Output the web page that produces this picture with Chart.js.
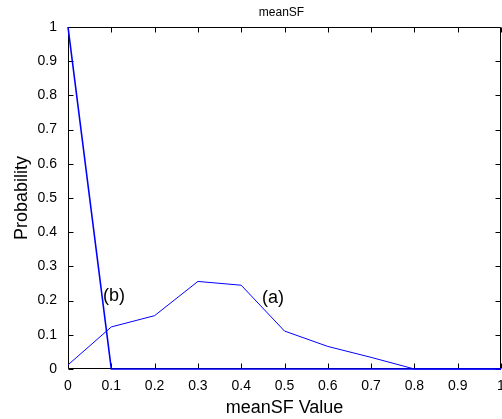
<!DOCTYPE html>
<html>
<head>
<meta charset="utf-8">
<script src="https://cdn.jsdelivr.net/npm/chart.js@4/dist/chart.umd.min.js"></script>
<style>
  body { margin: 0; background: #fff; }
  #wrap { width: 502px; height: 419px; }
</style>
</head>
<body>
<div id="wrap"><canvas id="meanSFChart" width="502" height="419"></canvas></div>
<script>
// Data block
const meanSFValues = [0, 0.1, 0.2, 0.3, 0.4, 0.5, 0.6, 0.7, 0.8, 0.9, 1];
const probA = [0.012, 0.123, 0.156, 0.256, 0.245, 0.111, 0.066, 0.034, 0, 0, 0];
const probB = [1, 0, 0, 0, 0, 0, 0, 0, 0, 0, 0];
const noteLabels = ['(b)', '(a)'];
const noteX = [0.081, 0.448];
const noteY = [0.213, 0.208];

const toPoints = (ys) => meanSFValues.map((x, i) => ({x: x, y: ys[i]}));

const meanSFData = {
    datasets: [{
        label: '(a)',
        data: toPoints(probA),
        borderColor: '#0000ff',
        borderWidth: 1,
        pointRadius: 0,
        tension: 0,
        clip: 3
    }, {
        label: '(b)',
        data: toPoints(probB),
        borderColor: '#0000ff',
        borderWidth: 1.6,
        pointRadius: 0,
        tension: 0,
        clip: 3
    }]  // End datasets
};  // End data

// MATLAB style box, inward ticks, title and curve labels
const matlabFrame = {
    id: 'matlabFrame',
    beforeDatasetsDraw(chart) {
        const {ctx, chartArea: a, scales: {x, y}} = chart;
        const L = Math.round(a.left) + 0.5, R = Math.round(a.right) - 0.5;
        const T = Math.round(a.top) + 0.5, B = Math.round(a.bottom) - 0.5;
        ctx.save();
        ctx.strokeStyle = '#000';
        ctx.lineWidth = 1;
        ctx.beginPath();
        ctx.rect(L, T, R - L, B - T);
        x.ticks.forEach(t => {
            const px = Math.round(x.getPixelForValue(t.value)) + 0.5;
            ctx.moveTo(px, B); ctx.lineTo(px, B - 5);
            ctx.moveTo(px, T); ctx.lineTo(px, T + 5);
        });
        y.ticks.forEach(t => {
            const py = Math.round(y.getPixelForValue(t.value)) + 0.5;
            ctx.moveTo(L, py); ctx.lineTo(L + 5, py);
            ctx.moveTo(R, py); ctx.lineTo(R - 5, py);
        });
        ctx.stroke();
        ctx.restore();
    },
    afterDraw(chart) {
        const {ctx, chartArea: a, scales: {x, y}} = chart;
        ctx.save();
        ctx.fillStyle = '#000';
        ctx.font = '12px "Liberation Sans", Arial, sans-serif';
        ctx.textAlign = 'center';
        ctx.textBaseline = 'middle';
        ctx.fillText('meanSF', (a.left + a.right) / 2 - 3, 13);
        ctx.font = '18px "Liberation Sans", Arial, sans-serif';
        ctx.textAlign = 'left';
        noteLabels.forEach((txt, i) => {
            ctx.fillText(txt, x.getPixelForValue(noteX[i]), y.getPixelForValue(noteY[i]));
        });
        ctx.restore();
    }
};

const tickFont = {family: '"Liberation Sans", Arial, sans-serif', size: 14};
const titleFont = {family: '"Liberation Sans", Arial, sans-serif', size: 18};

// Config block
const meanSFConfig = {
    type: 'line',
    data: meanSFData,
    options: {
        responsive: false,
        animation: false,
        layout: {padding: {top: 27, right: 1, left: 0, bottom: 0}},
        plugins: {
            legend: {display: false},
            title: {display: false},
            tooltip: {enabled: false}
        },  // End plugins
        scales: {
            x: {
                type: 'linear',
                min: 0,
                max: 1,
                grid: {display: false},
                border: {display: false},
                ticks: {
                    stepSize: 0.1,
                    padding: 1,
                    color: '#000',
                    font: tickFont,
                    maxRotation: 0,
                    callback: (v) => String(Number(v.toFixed(1)))
                },
                title: {
                    display: true,
                    text: 'meanSF Value',
                    color: '#000',
                    font: titleFont,
                    padding: {top: 0, bottom: 0}
                },
                afterFit(scale) {
                    scale.height = 50;
                    scale.paddingLeft = 0;
                    scale.paddingRight = 0;
                }
            },
            y: {
                min: 0,
                max: 1,
                grid: {display: false},
                border: {display: false},
                ticks: {
                    stepSize: 0.1,
                    padding: 3,
                    color: '#000',
                    font: tickFont,
                    callback: (v) => String(Number(v.toFixed(1)))
                },
                title: {
                    display: true,
                    text: 'Probability',
                    color: '#000',
                    font: titleFont,
                    padding: {top: 11, bottom: 0}
                },
                afterFit(scale) {
                    scale.width = 68;
                    scale.paddingTop = 0;
                    scale.paddingBottom = 0;
                }
            }
        }
    },  // End options
    plugins: [matlabFrame]
};  // End config

// render / init block
const meanSFChart = new Chart(
    document.getElementById('meanSFChart'),
    meanSFConfig
);
</script>
</body>
</html>
